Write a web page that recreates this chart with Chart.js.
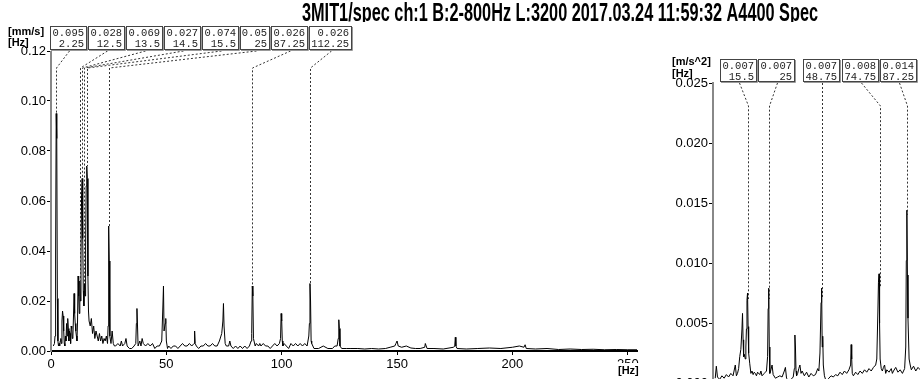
<!DOCTYPE html>
<html>
<head>
<meta charset="utf-8">
<title>Spectrum</title>
<script src="https://cdn.jsdelivr.net/npm/chart.js@4.4.1/dist/chart.umd.min.js"></script>
<style>
  html, body { margin: 0; padding: 0; background: #fff; }
  #wrap { position: relative; width: 920px; height: 379px; overflow: hidden; background: #fff; }
  #rightBox { position: absolute; left: 640px; top: 30px; width: 645px; height: 390px; }
  #leftBox { position: absolute; left: 0; top: 0; width: 920px; height: 379px; }
</style>
</head>
<body>
<div id="wrap">
  <div id="rightBox"><canvas id="specRight"></canvas></div>
  <div id="leftBox"><canvas id="specLeft"></canvas></div>
</div>
<script>
const titleText = "3MIT1/spec ch:1 B:2-800Hz L:3200 2017.03.24 11:59:32 A4400 Spec";

// velocity spectrum (left), Hz / mm/s
const freqL = [1.0, 1.5, 1.75, 2.0, 2.25, 2.5, 2.75, 3.0, 3.25, 3.5, 3.75, 4.0, 4.25, 4.5, 4.75, 5.0, 5.25, 5.5, 5.75, 6.0,
  6.25, 6.5, 6.75, 7.0, 7.25, 7.5, 7.75, 8.0, 8.25, 8.5, 8.75, 9.0, 9.25, 9.5, 9.75, 10.0, 10.25, 10.5, 10.75, 11.0,
  11.25, 11.5, 11.75, 12.0, 12.25, 12.5, 12.75, 13.0, 13.25, 13.5, 13.75, 14.0, 14.25, 14.5, 14.75, 15.0, 15.25, 15.5, 15.75, 16.0,
  16.25, 16.5, 17.0, 17.5, 18.0, 18.5, 19.0, 19.5, 20.0, 20.5, 21.0, 21.5, 22.0, 22.5, 23.0, 23.5, 24.0, 24.5, 24.75, 25.0,
  25.25, 25.5, 26.0, 26.5, 27.0, 27.5, 28.0, 29.0, 30.0, 30.5, 31.0, 32.0, 32.5, 33.0, 34.0, 35.0, 36.0, 36.75, 37.0, 37.25,
  37.5, 37.75, 38.0, 38.5, 39.0, 39.5, 40.0, 41.0, 42.0, 43.0, 44.0, 45.0, 46.0, 47.0, 48.0, 48.5, 48.75, 49.0, 49.5, 49.75,
  50.0, 50.5, 51.0, 52.0, 53.0, 54.0, 55.0, 56.0, 57.0, 58.0, 59.0, 60.0, 61.0, 62.0, 62.25, 62.5, 63.0, 64.0, 65.0, 66.0,
  67.0, 68.0, 69.0, 70.0, 71.0, 72.0, 73.0, 74.0, 74.5, 74.75, 75.0, 75.5, 76.0, 77.0, 77.5, 78.0, 79.0, 80.0, 81.0, 82.0,
  83.0, 84.0, 85.0, 86.0, 86.75, 87.0, 87.25, 87.5, 87.75, 88.0, 88.5, 89.0, 90.0, 90.5, 91.0, 92.0, 93.0, 94.0, 95.0, 96.0,
  97.0, 98.0, 99.0, 99.5, 99.75, 100.0, 100.25, 100.5, 101.0, 102.0, 103.0, 104.0, 105.0, 106.0, 107.0, 108.0, 109.0, 110.0, 111.0, 111.75,
  112.0, 112.25, 112.5, 112.75, 113.0, 114.0, 116.0, 118.0, 120.0, 122.0, 123.0, 124.0, 124.5, 124.75, 125.0, 125.25, 126.0, 128.0, 130.0, 133.0,
  136.0, 139.0, 142.0, 145.0, 147.0, 149.0, 149.5, 150.0, 150.5, 152.0, 154.0, 156.0, 158.0, 160.0, 162.0, 162.25, 163.0, 166.0, 170.0, 174.5,
  175.0, 175.25, 175.5, 176.0, 180.0, 185.0, 190.0, 195.0, 200.0, 203.0, 205.0, 205.5, 206.0, 210.0, 215.0, 220.0, 225.0, 230.0, 235.0, 240.0,
  245.0, 250.0, 254.0];
const ampL = [0.002, 0.003, 0.006, 0.038, 0.095, 0.085, 0.021, 0.004, 0.002, 0.003, 0.002, 0.004, 0.005, 0.003, 0.012, 0.016, 0.014, 0.008, 0.003, 0.002,
  0.006, 0.004, 0.011, 0.006, 0.013, 0.009, 0.004, 0.008, 0.007, 0.003, 0.010, 0.009, 0.005, 0.006, 0.014, 0.023, 0.015, 0.011, 0.008, 0.006,
  0.004, 0.012, 0.030, 0.022, 0.015, 0.028, 0.020, 0.038, 0.062, 0.069, 0.045, 0.024, 0.018, 0.027, 0.022, 0.042, 0.066, 0.074, 0.069, 0.030,
  0.016, 0.012, 0.010, 0.013, 0.007, 0.010, 0.005, 0.008, 0.006, 0.004, 0.007, 0.004, 0.006, 0.003, 0.005, 0.004, 0.006, 0.003, 0.010, 0.050,
  0.036, 0.006, 0.003, 0.008, 0.003, 0.002, 0.002, 0.003, 0.002, 0.004, 0.002, 0.003, 0.005, 0.002, 0.001, 0.001, 0.002, 0.003, 0.011, 0.017,
  0.010, 0.002, 0.002, 0.004, 0.002, 0.005, 0.003, 0.002, 0.003, 0.002, 0.003, 0.001, 0.002, 0.002, 0.004, 0.018, 0.026, 0.008, 0.011, 0.013,
  0.004, 0.001, 0.002, 0.001, 0.002, 0.002, 0.001, 0.002, 0.003, 0.002, 0.002, 0.003, 0.002, 0.003, 0.008, 0.003, 0.002, 0.001, 0.002, 0.002,
  0.003, 0.002, 0.002, 0.003, 0.002, 0.002, 0.004, 0.007, 0.012, 0.019, 0.010, 0.003, 0.002, 0.002, 0.004, 0.002, 0.001, 0.002, 0.001, 0.002,
  0.001, 0.002, 0.001, 0.002, 0.004, 0.007, 0.026, 0.022, 0.005, 0.004, 0.002, 0.003, 0.002, 0.003, 0.002, 0.003, 0.002, 0.002, 0.001, 0.002,
  0.003, 0.002, 0.003, 0.005, 0.015, 0.012, 0.004, 0.002, 0.003, 0.002, 0.001, 0.003, 0.002, 0.003, 0.002, 0.003, 0.002, 0.003, 0.002, 0.006,
  0.011, 0.027, 0.020, 0.004, 0.003, 0.001, 0.001, 0.002, 0.001, 0.001, 0.002, 0.002, 0.005, 0.0125, 0.009, 0.002, 0.001, 0.001, 0.001, 0.001,
  0.0008, 0.001, 0.0008, 0.001, 0.0015, 0.002, 0.003, 0.004, 0.002, 0.0015, 0.002, 0.0012, 0.001, 0.001, 0.0015, 0.003, 0.001, 0.001, 0.0008, 0.0015,
  0.002, 0.0055, 0.002, 0.001, 0.0008, 0.001, 0.0012, 0.001, 0.0015, 0.002, 0.0015, 0.0025, 0.001, 0.0008, 0.001, 0.0006, 0.0008, 0.0006, 0.0007, 0.0005,
  0.0006, 0.0005, 0.0005];

// acceleration spectrum (right), Hz / m/s^2
const freqR = [1.0, 1.5, 2.0, 3.0, 4.0, 5.0, 6.0, 7.0, 8.0, 9.0, 10.0, 10.5, 11.0, 11.5, 12.0, 12.5, 13.0, 13.25, 13.5, 13.75,
  14.0, 14.5, 14.75, 15.0, 15.25, 15.5, 15.75, 16.0, 16.5, 17.0, 17.5, 18.0, 18.5, 19.0, 19.5, 20.0, 21.0, 21.5, 22.0, 23.0,
  23.5, 24.0, 24.5, 24.75, 25.0, 25.25, 25.5, 26.0, 26.5, 27.0, 28.0, 29.0, 30.0, 31.0, 32.0, 32.5, 33.0, 34.0, 35.0, 36.0,
  36.5, 36.75, 37.0, 37.25, 37.5, 38.0, 38.5, 39.0, 39.5, 40.0, 41.0, 42.0, 43.0, 44.0, 45.0, 46.0, 47.0, 47.5, 48.0, 48.5,
  48.75, 49.0, 49.25, 49.5, 50.0, 50.5, 51.0, 52.0, 53.0, 54.0, 55.0, 56.0, 57.0, 58.0, 59.0, 60.0, 61.0, 61.75, 62.0, 62.25,
  62.5, 63.0, 64.0, 65.0, 66.0, 67.0, 68.0, 69.0, 70.0, 71.0, 72.0, 73.0, 73.5, 74.0, 74.25, 74.5, 74.75, 75.0, 75.5, 76.0,
  76.5, 77.0, 77.5, 78.0, 79.0, 80.0, 80.5, 81.0, 82.0, 83.0, 84.0, 85.0, 86.0, 86.5, 86.75, 87.0, 87.25, 87.5, 88.0, 88.5,
  89.0, 90.0, 91.0, 92.0, 93.0, 94.0];
const ampR = [0.0004, 0.0014, 0.0005, 0.0003, 0.0006, 0.0004, 0.0007, 0.0005, 0.0008, 0.0006, 0.0015, 0.0006, 0.0008, 0.0012, 0.0022, 0.0028, 0.0045, 0.0058, 0.0036, 0.0022,
  0.0024, 0.0020, 0.0030, 0.0045, 0.0069, 0.0075, 0.0047, 0.0025, 0.0016, 0.0008, 0.0010, 0.0007, 0.0009, 0.0008, 0.0006, 0.0009, 0.0007, 0.0010, 0.0006, 0.0008,
  0.0009, 0.0010, 0.0022, 0.0062, 0.0079, 0.0030, 0.0008, 0.0011, 0.0015, 0.0007, 0.0004, 0.0005, 0.0006, 0.0005, 0.0010, 0.0013, 0.0004, 0.0002, 0.0003, 0.0005,
  0.0012, 0.0040, 0.0030, 0.0010, 0.0006, 0.0008, 0.0012, 0.0015, 0.0008, 0.0010, 0.0006, 0.0009, 0.0005, 0.0008, 0.0006, 0.0007, 0.0012, 0.0010, 0.0025, 0.0067,
  0.0079, 0.0030, 0.0039, 0.0015, 0.0006, 0.0003, 0.0002, 0.0004, 0.0006, 0.0005, 0.0007, 0.0006, 0.0009, 0.0007, 0.0010, 0.0008, 0.0011, 0.0015, 0.0032, 0.0020,
  0.0008, 0.0006, 0.0009, 0.0007, 0.0010, 0.0008, 0.0011, 0.0009, 0.0012, 0.0010, 0.0013, 0.0015, 0.0020, 0.0060, 0.0084, 0.0091, 0.0050, 0.0020, 0.0012, 0.0010,
  0.0013, 0.0015, 0.0008, 0.0011, 0.0009, 0.0012, 0.0008, 0.0010, 0.0013, 0.0009, 0.0011, 0.0008, 0.0012, 0.0030, 0.0102, 0.0144, 0.0090, 0.0054, 0.0020, 0.0015,
  0.0011, 0.0014, 0.0010, 0.0013, 0.0011, 0.0009];

// marked peaks
const peakFreqL = [2.25, 12.5, 13.5, 14.5, 15.5, 25, 87.25, 112.25];
const peakValL = [0.095, 0.028, 0.069, 0.027, 0.074, 0.05, 0.026, 0.026];
const peakFreqR = [15.5, 25, 48.75, 74.75, 87.25];
const peakValR = [0.007, 0.007, 0.007, 0.008, 0.014];

// axes
const xTicks = [0, 50, 100, 150, 200, 250];
const yTicksL = [0, 0.02, 0.04, 0.06, 0.08, 0.10, 0.12];
const yLabelsL = ["0.00", "0.02", "0.04", "0.06", "0.08", "0.10", "0.12"];
const yTicksR = [0, 0.005, 0.010, 0.015, 0.020, 0.025];
const yLabelsR = ["0.000", "0.005", "0.010", "0.015", "0.020", "0.025"];

// put boxes next to each other, as close to their peaks as they fit
function packBoxes(centers, widths, minX, maxX) {
  const place = (g) => {
    let off = 0, sum = 0;
    g.ids.forEach((k) => { sum += centers[k] - off - widths[k] / 2; off += widths[k]; });
    g.left = Math.min(Math.max(sum / g.ids.length, minX), maxX - g.w);
  };
  let groups = centers.map((c, i) => ({ ids: [i], w: widths[i] }));
  groups.forEach(place);
  let merged = true;
  while (merged) {
    merged = false;
    for (let i = 1; i < groups.length; i++) {
      const a = groups[i - 1], b = groups[i];
      if (a.left + a.w > b.left) {
        const g = { ids: a.ids.concat(b.ids), w: a.w + b.w };
        place(g);
        groups.splice(i - 1, 2, g);
        merged = true;
        break;
      }
    }
  }
  const lefts = [];
  groups.forEach((g) => {
    let x = g.left;
    g.ids.forEach((k) => { lefts[k] = x; x += widths[k]; });
  });
  return lefts;
}

const peakPlugin = {
  id: "peakBoxes",
  afterDraw(chart, args, o) {
    if (!o.freqs) return;
    const ctx = chart.ctx;
    const xs = chart.scales.x, ys = chart.scales.y;
    ctx.save();
    ctx.font = '10.5px "Liberation Mono"';
    const tops = o.vals.map(String);
    const bots = o.freqs.map(String);
    const widths = tops.map((t, i) =>
      Math.round(Math.max(ctx.measureText(t).width, ctx.measureText(bots[i]).width) + 6));
    const centers = o.freqs.map((f) => xs.getPixelForValue(f));
    const lefts = packBoxes(centers, widths, o.minX, o.maxX).map(Math.round);

    // leader lines
    ctx.strokeStyle = "#333";
    ctx.lineWidth = 1;
    ctx.setLineDash([2, 2]);
    lefts.forEach((l, i) => {
      const px = Math.round(centers[i]) + 0.5;
      ctx.beginPath();
      ctx.moveTo(Math.round(l + widths[i] / 2) + 0.5, o.boxTop + o.boxH);
      ctx.lineTo(px, o.bendY);
      ctx.lineTo(px, ys.getPixelForValue(o.vals[i]));
      ctx.stroke();
    });
    ctx.setLineDash([]);

    // boxes
    lefts.forEach((l, i) => {
      const w = widths[i], h = o.boxH, t = o.boxTop;
      ctx.fillStyle = "#fff";
      ctx.fillRect(l, t, w, h);
      ctx.strokeStyle = "#444";
      ctx.strokeRect(l + 0.5, t + 0.5, w - 2, h - 2);
      ctx.strokeStyle = "#999";
      ctx.beginPath();
      ctx.moveTo(l + w - 0.5, t + 1);
      ctx.lineTo(l + w - 0.5, t + h - 0.5);
      ctx.lineTo(l + 1, t + h - 0.5);
      ctx.stroke();
      ctx.fillStyle = "#222";
      ctx.textAlign = "right";
      ctx.textBaseline = "middle";
      ctx.fillText(tops[i], l + w - 4, t + 7);
      ctx.fillText(bots[i], l + w - 4, t + 18);
    });

    // unit labels
    ctx.font = 'bold 11px "Liberation Sans"';
    ctx.fillStyle = "#000";
    ctx.textAlign = "left";
    ctx.fillText(o.units[0], o.unitX, o.unitY[0]);
    ctx.fillText(o.units[1], o.unitX, o.unitY[1]);

    if (o.axisUnit) {
      const a = o.axisUnit;
      ctx.fillStyle = "#fff";
      ctx.fillRect(a.x, a.y, a.w, a.h);
      ctx.fillStyle = "#000";
      ctx.fillText(a.text, a.x + 1, a.y + a.h / 2);
    }
    ctx.restore();
  },
};

const titlePlugin = {
  id: "specTitle",
  afterDraw(chart, args, o) {
    if (!o.text) return;
    const ctx = chart.ctx;
    ctx.save();
    ctx.beginPath();
    ctx.rect(o.x - 4, 0, o.width + 8, o.clipBottom);
    ctx.clip();
    ctx.font = 'bold 25px "Liberation Sans"';
    const w = ctx.measureText(o.text).width;
    ctx.translate(o.x, o.baseline);
    ctx.scale(o.width / w, 1);
    ctx.fillStyle = "#000";
    ctx.textBaseline = "alphabetic";
    ctx.textAlign = "left";
    ctx.fillText(o.text, 0, 0);
    ctx.restore();
  },
};

function makeSpectrum(canvasId, freqs, amps, cfg) {
  const ctx = document.getElementById(canvasId).getContext("2d");
  return new Chart(ctx, {
    type: "line",
    data: {
      datasets: [
        {
          data: freqs.map((f, i) => ({ x: f, y: amps[i] })),
          borderColor: "#000",
          borderWidth: 1,
          pointRadius: 0,
          tension: 0,
          fill: false,
        },
      ],
    },
    options: {
      responsive: true,
      maintainAspectRatio: false,
      animation: false,
      events: [],
      layout: { padding: cfg.padding },
      plugins: {
        legend: { display: false },
        tooltip: { enabled: false },
        peakBoxes: cfg.peaks,
        specTitle: cfg.title || {},
      },
      scales: {
        x: {
          type: "linear",
          min: 0,
          max: 254,
          afterBuildTicks: (s) => { s.ticks = xTicks.map((v) => ({ value: v })); },
          afterFit: (s) => { s.height = cfg.xHeight; },
          border: { color: "#000", width: 2 },
          grid: { drawOnChartArea: false, drawTicks: true, tickLength: 4, color: "#000" },
          ticks: {
            color: "#000",
            padding: 2,
            maxRotation: 0,
            font: { family: "Liberation Sans", size: 13 },
          },
        },
        y: {
          min: 0,
          max: cfg.yTicks[cfg.yTicks.length - 1],
          afterBuildTicks: (s) => { s.ticks = cfg.yTicks.map((v) => ({ value: v })); },
          afterFit: (s) => { s.width = cfg.yWidth; },
          border: { color: "#888", width: 2 },
          grid: { drawOnChartArea: false, drawTicks: true, tickLength: 4, color: "#000" },
          ticks: {
            color: "#000",
            padding: 1,
            font: { family: "Liberation Sans", size: 13 },
            callback: (v, i) => cfg.yLabels[i],
          },
        },
      },
    },
    plugins: [peakPlugin, titlePlugin],
  });
}

makeSpectrum("specRight", freqR, ampR, {
  padding: { top: 53, right: 6, left: 0, bottom: 0 },
  xHeight: 37,
  yWidth: 73,
  yTicks: yTicksR,
  yLabels: yLabelsR,
  peaks: {
    freqs: peakFreqR,
    vals: peakValR,
    boxTop: 29,
    boxH: 24,
    bendY: 76,
    minX: 70,
    maxX: 278,
    units: ["[m/s^2]", "[Hz]"],
    unitX: 32,
    unitY: [32, 44],
  },
});

makeSpectrum("specLeft", freqL, ampL, {
  padding: { top: 51, right: 283, left: 0, bottom: 0 },
  xHeight: 28,
  yWidth: 51,
  yTicks: yTicksL,
  yLabels: yLabelsL,
  peaks: {
    freqs: peakFreqL,
    vals: peakValL,
    boxTop: 26,
    boxH: 25,
    bendY: 68,
    minX: 50,
    maxX: 640,
    units: ["[mm/s]", "[Hz]"],
    unitX: 8,
    unitY: [32, 43],
    axisUnit: { x: 617, y: 363, w: 23, h: 16, text: "[Hz]" },
  },
  title: { text: titleText, x: 302, width: 516, baseline: 21, clipBottom: 22 },
});
</script>
</body>
</html>
